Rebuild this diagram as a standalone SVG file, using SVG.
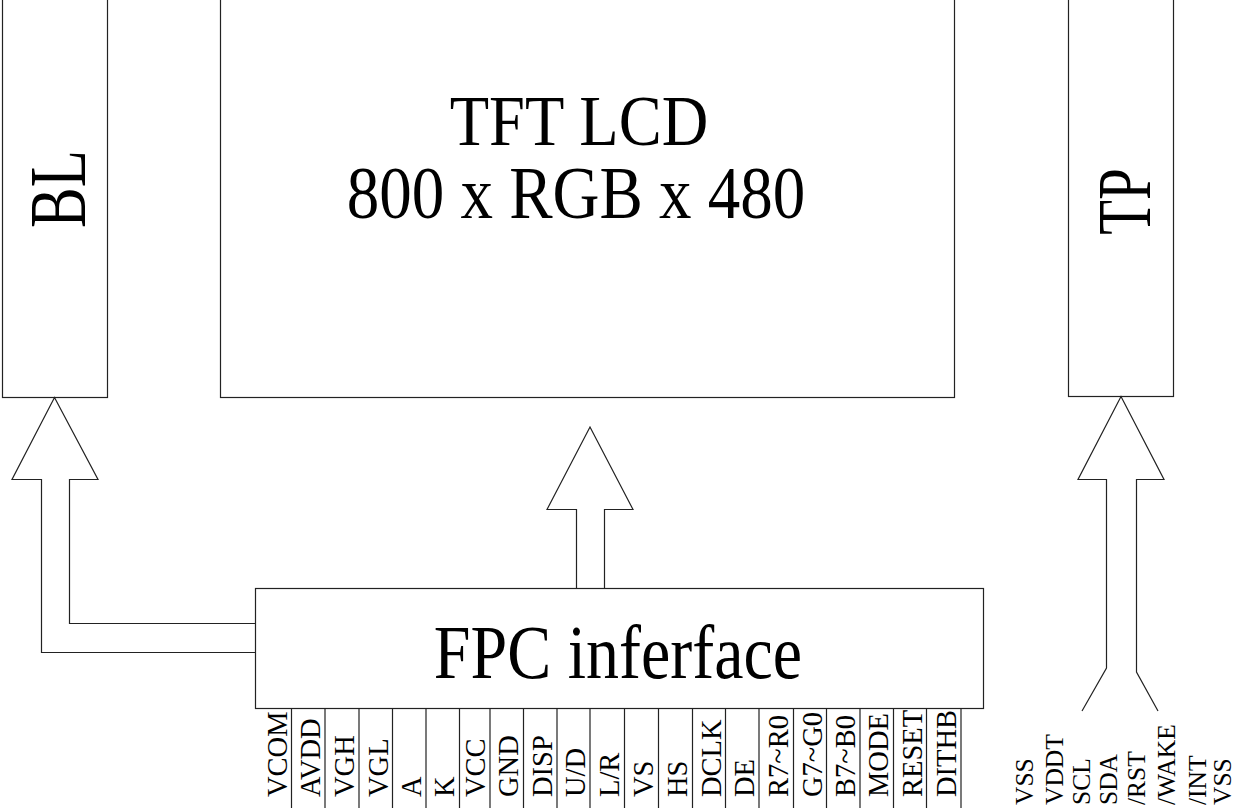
<svg xmlns="http://www.w3.org/2000/svg" width="1236" height="808" viewBox="0 0 1236 808">
<style>
.box{fill:#fff;stroke:#222;stroke-width:1.2}
.ln{fill:none;stroke:#222;stroke-width:1.2}
.t{font-family:"Liberation Serif","Times New Roman",serif;fill:#000}
.big{font-size:65px;text-anchor:middle}
.pin{font-size:28.5px;text-anchor:start}
.tp{font-size:25.5px;text-anchor:start}
</style>
<rect width="1236" height="808" fill="#fff"/>
<g id="bl">
<rect class="box" x="2.5" y="-2" width="105" height="399.5"/>
<text class="t big" transform="translate(85,189) rotate(-90) scale(1,1.32)" style="font-size:61px">BL</text>
</g>
<g id="tft">
<rect class="box" x="220.5" y="-2" width="734" height="399.5"/>
<text class="t big" transform="translate(579,145) scale(1,1.12)" style="font-size:64.5px">TFT LCD</text>
<text class="t big" transform="translate(576,218) scale(1,1.14)">800 x RGB x 480</text>
</g>
<g id="tp">
<rect class="box" x="1068.5" y="-2" width="105" height="398.5"/>
<text class="t big" transform="translate(1150,201.5) rotate(-90) scale(1,1.32)" style="font-size:57px">TP</text>
</g>
<g id="fpc">
<rect class="box" x="255.5" y="588.5" width="728" height="120"/>
<text class="t big" transform="translate(618,678) scale(1,1.15)" style="font-size:66px">FPC inferface</text>
<g class="ln">
<path d="M291.5,708.5V808M325,708.5V808M359,708.5V808M392.5,708.5V808M426,708.5V808M459.5,708.5V808M490,708.5V808M523.5,708.5V808M557,708.5V808M590,708.5V808M624.5,708.5V808M658.5,708.5V808M692.5,708.5V808M725.5,708.5V808M759,708.5V808M793.5,708.5V808M826.5,708.5V808M860,708.5V808M893.5,708.5V808M926.5,708.5V808M961,708.5V808"/>
</g>
<g class="t pin">
<text transform="translate(287,797) rotate(-90)">VCOM</text>
<text transform="translate(320,797) rotate(-90)">AVDD</text>
<text transform="translate(354,797) rotate(-90)">VGH</text>
<text transform="translate(388,797) rotate(-90)">VGL</text>
<text transform="translate(421,797) rotate(-90)">A</text>
<text transform="translate(454,797) rotate(-90)">K</text>
<text transform="translate(485,797) rotate(-90)">VCC</text>
<text transform="translate(518,797) rotate(-90)">GND</text>
<text transform="translate(552,797) rotate(-90)">DISP</text>
<text transform="translate(585,797) rotate(-90)">U/D</text>
<text transform="translate(619,797) rotate(-90)">L/R</text>
<text transform="translate(653,797) rotate(-90)">VS</text>
<text transform="translate(687,797) rotate(-90)">HS</text>
<text transform="translate(721,797) rotate(-90)">DCLK</text>
<text transform="translate(754,797) rotate(-90)">DE</text>
<text transform="translate(788,797) rotate(-90)">R7~R0</text>
<text transform="translate(822,797) rotate(-90)">G7~G0</text>
<text transform="translate(855,797) rotate(-90)">B7~B0</text>
<text transform="translate(888,797) rotate(-90)">MODE</text>
<text transform="translate(922,797) rotate(-90)">RESET</text>
<text transform="translate(956,797) rotate(-90)">DITHB</text>
</g>
</g>
<g id="tp-pins" class="t tp">
<text transform="translate(1033,805) rotate(-90)">VSS</text>
<text transform="translate(1063,805) rotate(-90)">VDDT</text>
<text transform="translate(1090,805) rotate(-90)">SCL</text>
<text transform="translate(1117,805) rotate(-90)">SDA</text>
<text transform="translate(1145,805) rotate(-90)">/RST</text>
<text transform="translate(1175,805) rotate(-90)">/WAKE</text>
<text transform="translate(1206,805) rotate(-90)">/INT</text>
<text transform="translate(1231,805) rotate(-90)">VSS</text>
</g>
<g id="connectors" class="ln">
<path d="M255.5,623.5H69.5V479.5H98L54.5,397.5L12,479.5H41.5V652.5H255.5"/>
<path d="M576.5,588.5V509.5H547L590,427L633,509.5H604.5V588.5"/>
<path d="M1082,711L1106.5,668V479.5H1078L1121,396.5L1164,479.5H1136.5V672L1158,711"/>
</g>
</svg>
